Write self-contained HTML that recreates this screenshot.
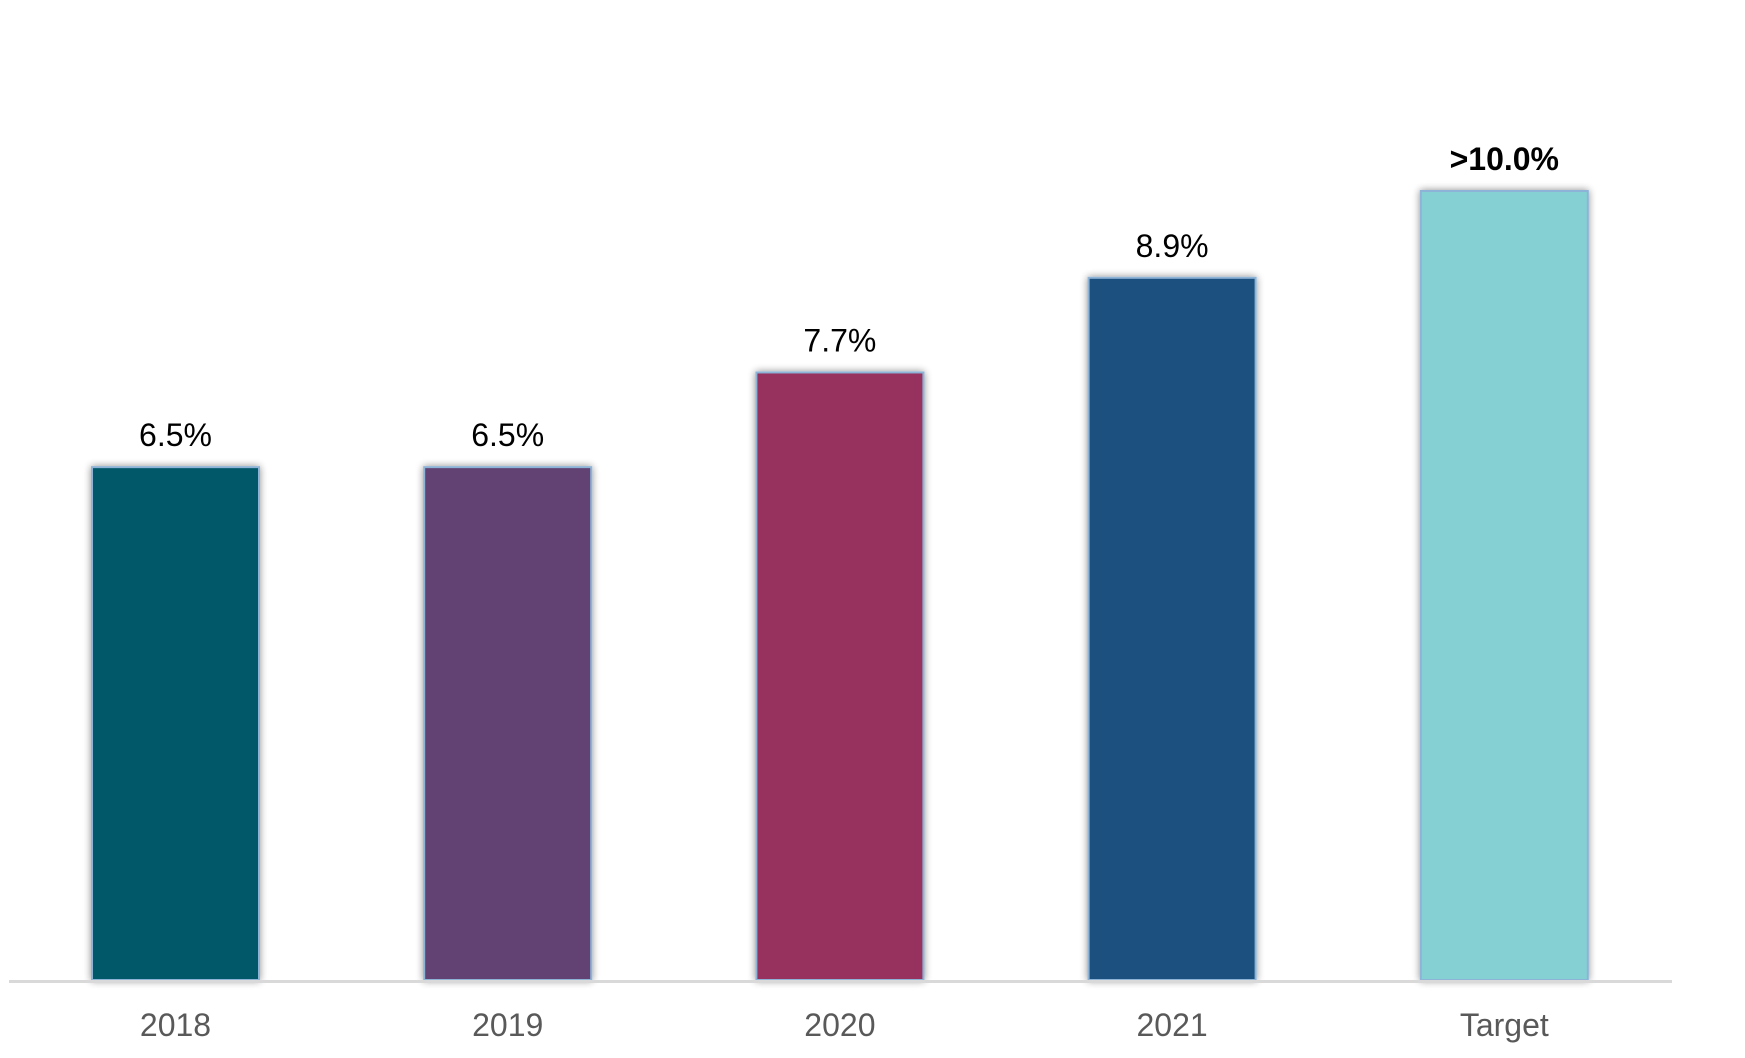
<!DOCTYPE html>
<html><head><meta charset="utf-8"><style>
html,body{margin:0;padding:0;background:#fff;}
svg{display:block;}
</style></head><body>
<svg id="chart" width="1745" height="1058" viewBox="0 0 1745 1058" xmlns="http://www.w3.org/2000/svg" font-family="Liberation Sans, sans-serif">
<defs>
<filter id="sh" x="-20%" y="-5%" width="140%" height="110%">
<feGaussianBlur in="SourceAlpha" stdDeviation="4"/>
<feOffset dx="0" dy="0"/>
<feComponentTransfer><feFuncA type="linear" slope="0.45"/></feComponentTransfer>
<feMerge><feMergeNode/><feMergeNode in="SourceGraphic"/></feMerge>
</filter>
</defs>
<g id="bars"></g>
<g id="labels"></g>
<g id="cats"></g>
<line x1="9" y1="981.5" x2="1672" y2="981.5" stroke="#d9d9d9" stroke-width="3"/>
</svg>
<script>
const categories = ["2018","2019","2020","2021","Target"];
const values = [6.5, 6.5, 7.7, 8.9, 10.0];
const valueLabels = ["6.5%","6.5%","7.7%","8.9%",">10.0%"];
const colors = ["#025967","#624372","#97305f","#1e517f","#84d0d3"];

const baseY = 980, unit = 78.9;
const firstCenter = 175.5, step = 332.2, barW = 167;
function yScale(v){ return baseY - v*unit; }
function xCenter(i){ return firstCenter + i*step; }

const ns = "http://www.w3.org/2000/svg";
const gb = document.getElementById('bars');
const gl = document.getElementById('labels');
const gc = document.getElementById('cats');
categories.forEach((c,i)=>{
  const v = values[i];
  const r = document.createElementNS(ns,'rect');
  
  
  r.setAttribute('x', xCenter(i)-barW/2);
  r.setAttribute('y', yScale(v));
  r.setAttribute('width', barW);
  r.setAttribute('height', baseY - yScale(v));
  r.setAttribute('fill', colors[i]);
  r.setAttribute('stroke', '#8db3d6');
  r.setAttribute('stroke-width', '2');
  r.setAttribute('filter', 'url(#sh)');
  gb.appendChild(r);

  const t = document.createElementNS(ns,'text');
  
  
  t.setAttribute('x', xCenter(i));
  t.setAttribute('y', yScale(v) - 21);
  t.setAttribute('text-anchor', 'middle');
  t.setAttribute('font-size', '32');
  t.setAttribute('fill', '#000');
  if (i === categories.length-1) t.setAttribute('font-weight', 'bold');
  t.textContent = valueLabels[i];
  gl.appendChild(t);

  const ct = document.createElementNS(ns,'text');
  
  
  ct.setAttribute('x', xCenter(i));
  ct.setAttribute('y', 1036);
  ct.setAttribute('text-anchor', 'middle');
  ct.setAttribute('font-size', '32');
  ct.setAttribute('fill', '#595959');
  ct.textContent = c;
  gc.appendChild(ct);
});
</script>
</body></html>
